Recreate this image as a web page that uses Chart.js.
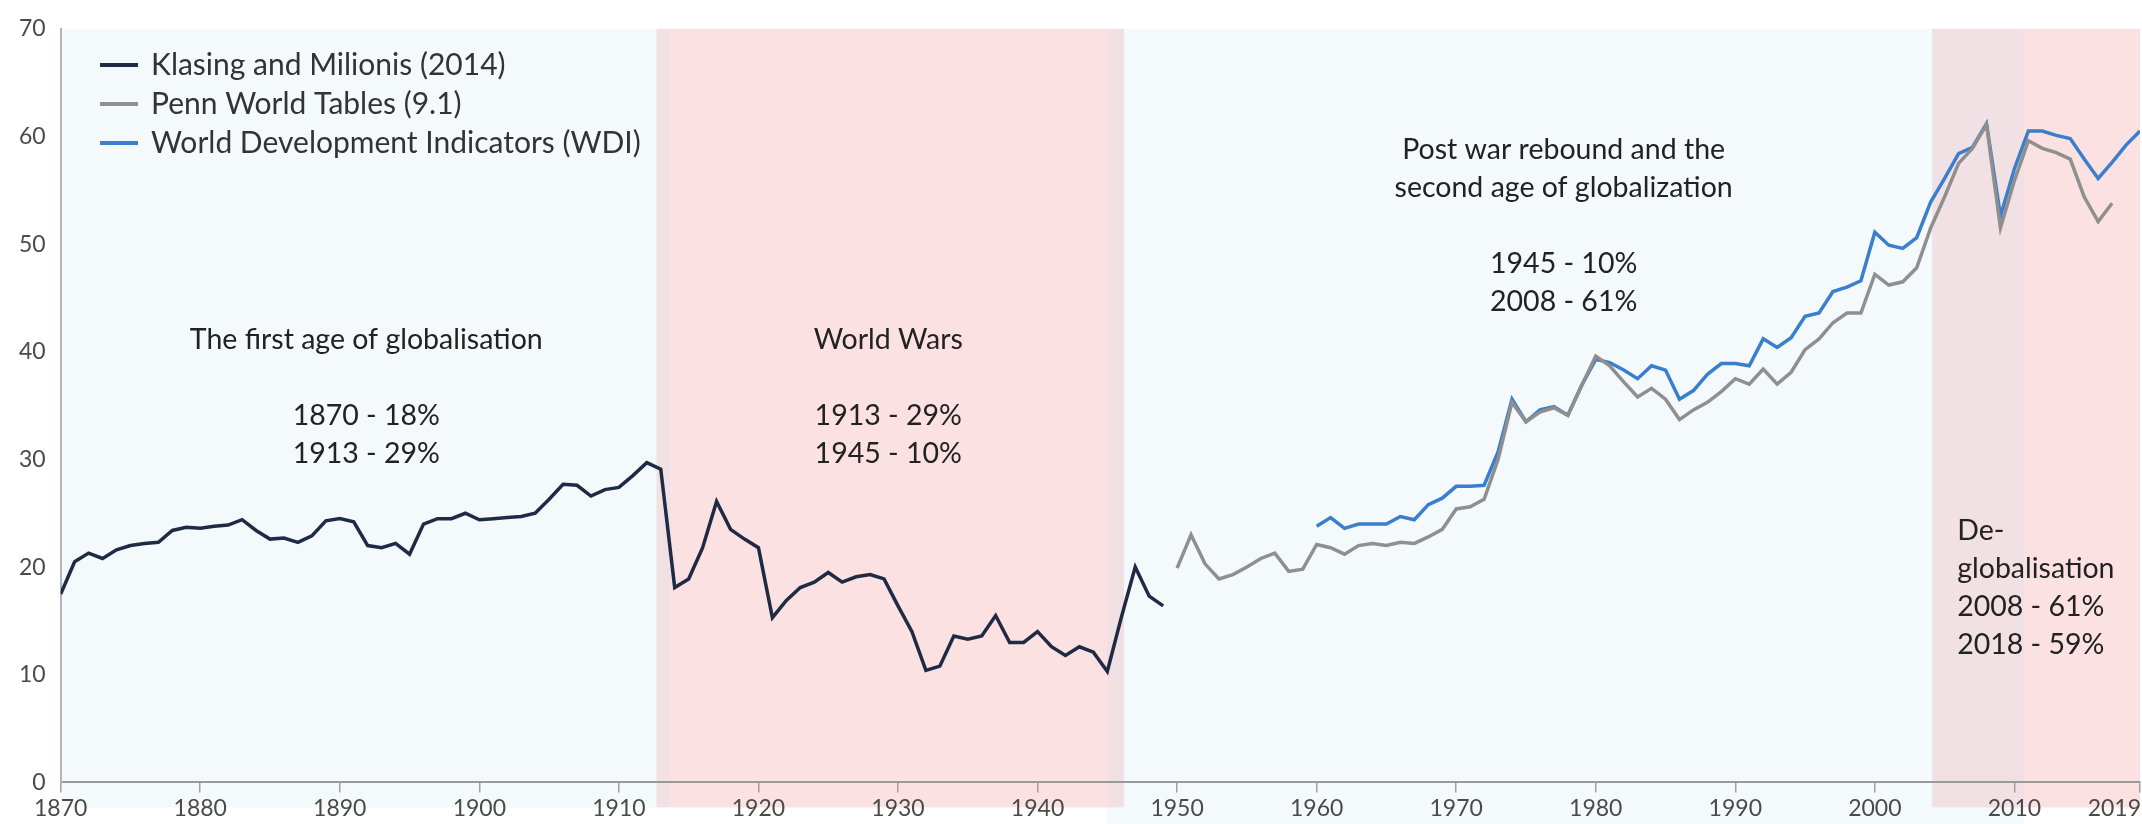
<!DOCTYPE html>
<html>
<head>
<meta charset="utf-8">
<script src="https://cdn.jsdelivr.net/npm/chart.js@4.4.1/dist/chart.umd.min.js"></script>
<style>
  html, body { margin: 0; padding: 0; background: #fff; }
  #wrap { position: relative; width: 2142px; height: 824px; }
</style>
</head>
<body>
<div id="wrap"><canvas id="myChart"></canvas></div>
<script>
// trade openness (% of GDP), one value per year
let klasingStart = 1870;
let klasing = [17.5, 20.5, 21.3, 20.8, 21.6, 22.0, 22.2, 22.3, 23.4, 23.7,
  23.6, 23.8, 23.9, 24.4, 23.4, 22.6, 22.7, 22.3, 22.9, 24.3,
  24.5, 24.2, 22.0, 21.8, 22.2, 21.2, 24.0, 24.5, 24.5, 25.0,
  24.4, 24.5, 24.6, 24.7, 25.0, 26.3, 27.7, 27.6, 26.6, 27.2,
  27.4, 28.5, 29.7, 29.1, 18.1, 18.9, 21.8, 26.1, 23.5, 22.6,
  21.8, 15.3, 16.9, 18.1, 18.6, 19.5, 18.6, 19.1, 19.3, 18.9,
  16.4, 14.0, 10.4, 10.8, 13.6, 13.3, 13.6, 15.5, 13.0, 13.0,
  14.0, 12.6, 11.8, 12.6, 12.1, 10.3, 15.3, 20.0, 17.3, 16.4];

let pennStart = 1950;
let penn = [19.9, 23.0, 20.3, 18.9, 19.3, 20.0, 20.8, 21.3, 19.6, 19.8,
  22.1, 21.8, 21.2, 22.0, 22.2, 22.0, 22.3, 22.2, 22.8, 23.5,
  25.4, 25.6, 26.3, 30.0, 35.3, 33.5, 34.4, 34.8, 34.1, 36.9,
  39.6, 38.7, 37.2, 35.8, 36.6, 35.6, 33.7, 34.6, 35.3, 36.3,
  37.5, 37.0, 38.4, 37.0, 38.1, 40.2, 41.2, 42.7, 43.6, 43.6,
  47.2, 46.2, 46.5, 47.8, 51.5, 54.4, 57.5, 58.9, 61.1, 51.5,
  55.9, 59.6, 58.9, 58.5, 57.9, 54.4, 52.1, 53.8];

let wdiStart = 1960;
let wdi = [23.8, 24.6, 23.6, 24.0, 24.0, 24.0, 24.7, 24.4, 25.8, 26.4,
  27.5, 27.5, 27.6, 30.7, 35.6, 33.5, 34.6, 34.9, 34.1, 36.9,
  39.3, 39.0, 38.3, 37.5, 38.7, 38.3, 35.6, 36.4, 37.9, 38.9,
  38.9, 38.7, 41.2, 40.4, 41.3, 43.3, 43.6, 45.6, 46.0, 46.6,
  51.1, 49.9, 49.6, 50.6, 53.9, 56.1, 58.4, 59.0, 61.2, 52.6,
  57.0, 60.5, 60.5, 60.1, 59.8, 57.9, 56.1, 57.6, 59.2, 60.5];

let seriesLabels = ['Klasing and Milionis (2014)', 'Penn World Tables (9.1)', 'World Development Indicators (WDI)'];
let seriesColors = ['#1f2b45', '#8f8f8f', '#3a7fce'];

let tickYears = [1870, 1880, 1890, 1900, 1910, 1920, 1930, 1940, 1950, 1960, 1970, 1980, 1990, 2000, 2010, 2019];
let yTicks = [0, 10, 20, 30, 40, 50, 60, 70];

// shaded periods (years)
let bandFrom = [1870, 1912.7, 1945, 2004.1];
let bandTo = [1913.7, 1946.2, 2010.7, 2019];
let bandKind = ['calm', 'war', 'calm', 'war'];

let notes = [
  { year: 1891.9, value: 41.1, align: 'center', lines: ['The first age of globalisation', '', '1870 - 18%', '1913 - 29%'] },
  { year: 1929.3, value: 41.1, align: 'center', lines: ['World Wars', '', '1913 - 29%', '1945 - 10%'] },
  { year: 1977.7, value: 58.8, align: 'center', lines: ['Post war rebound and the', 'second age of globalization', '', '1945 - 10%', '2008 - 61%'] },
  { year: 2005.9, value: 23.4, align: 'left', lines: ['De-', 'globalisation', '2008 - 61%', '2018 - 59%'] }
];

function toPoints(start, values) {
  return values.map((v, i) => ({ x: start + i, y: v }));
}

let FONT = 'Lato, "Noto Sans", sans-serif';
let TICK_SIZE = 23;

let bandPlugin = {
  id: 'bands',
  beforeDraw(chart) {
    let ctx = chart.ctx, x = chart.scales.x, area = chart.chartArea;
    ctx.save();
    ['war', 'calm'].forEach(kind => {
      bandFrom.forEach((from, i) => {
        if (bandKind[i] !== kind) return;
        let x1 = x.getPixelForValue(from), x2 = x.getPixelForValue(bandTo[i]);
        let bottom = i === 2 ? chart.height : area.bottom + 25;
        ctx.fillStyle = kind === 'war' ? 'rgba(235,120,125,0.22)' : 'rgba(200,225,235,0.2)';
        ctx.fillRect(x1, area.top, x2 - x1, bottom - area.top);
      });
    });
    ctx.restore();
  }
};

let textPlugin = {
  id: 'texts',
  afterDraw(chart) {
    let ctx = chart.ctx, x = chart.scales.x, y = chart.scales.y;
    ctx.save();
    ctx.textBaseline = 'middle';

    // period notes
    ctx.fillStyle = '#222';
    ctx.font = '28.5px ' + FONT;
    notes.forEach(n => {
      ctx.textAlign = n.align;
      let px = x.getPixelForValue(n.year), py = y.getPixelForValue(n.value);
      n.lines.forEach((line, i) => ctx.fillText(line, px, py + i * 38));
    });

    // legend, top left inside the plot
    ctx.font = '30px ' + FONT;
    ctx.textAlign = 'left';
    seriesLabels.forEach((label, i) => {
      let ly = 65 + i * 39;
      ctx.strokeStyle = seriesColors[i];
      ctx.lineWidth = 4;
      ctx.beginPath();
      ctx.moveTo(100, ly);
      ctx.lineTo(138, ly);
      ctx.stroke();
      ctx.fillStyle = '#333';
      ctx.fillText(label, 151, ly);
    });

    // last x label sits flush with the right edge
    ctx.font = TICK_SIZE + 'px ' + FONT;
    ctx.fillStyle = '#4a4a4a';
    ctx.textAlign = 'right';
    let last = tickYears[tickYears.length - 1];
    ctx.fillText(String(last), x.getPixelForValue(last) + 1, x.top + 12 + TICK_SIZE * 0.6);
    ctx.restore();
  }
};

let ctx = document.getElementById('myChart').getContext('2d');

let chart = new Chart(ctx, {
  type: 'line',
  data: {
    datasets: [
      { label: seriesLabels[0], data: toPoints(klasingStart, klasing), borderColor: seriesColors[0] },
      { label: seriesLabels[1], data: toPoints(pennStart, penn), borderColor: seriesColors[1] },
      { label: seriesLabels[2], data: toPoints(wdiStart, wdi), borderColor: seriesColors[2] }
    ]
  },
  options: {
    responsive: true,
    maintainAspectRatio: false,
    animation: false,
    devicePixelRatio: 1,
    layout: { padding: { left: 4, top: 24, right: 1, bottom: 0 } },
    elements: {
      point: { radius: 0 },
      line: { borderWidth: 3.5, tension: 0, fill: false }
    },
    plugins: {
      legend: { display: false },
      tooltip: { enabled: false }
    },
    scales: {
      x: {
        type: 'linear',
        min: 1870,
        max: 2019,
        afterBuildTicks: s => { s.ticks = tickYears.map(v => ({ value: v })); },
        ticks: {
          autoSkip: false,
          maxRotation: 0,
          padding: 2,
          color: '#4a4a4a',
          font: { family: FONT, size: TICK_SIZE },
          callback: v => (v === tickYears[tickYears.length - 1] ? '' : String(v))
        },
        grid: { display: true, drawOnChartArea: false, drawTicks: true, tickLength: 10, color: '#a0a0a0', lineWidth: 1.5 },
        border: { display: true, color: '#9a9a9a', width: 2 }
      },
      y: {
        min: 0,
        max: 70,
        afterBuildTicks: s => { s.ticks = yTicks.map(v => ({ value: v })); },
        ticks: {
          padding: 15,
          color: '#4a4a4a',
          font: { family: FONT, size: TICK_SIZE }
        },
        grid: { display: false, drawTicks: false },
        border: { display: true, color: '#b5b5b5', width: 2 }
      }
    }
  },
  plugins: [bandPlugin, textPlugin]
});
</script>
</body>
</html>
